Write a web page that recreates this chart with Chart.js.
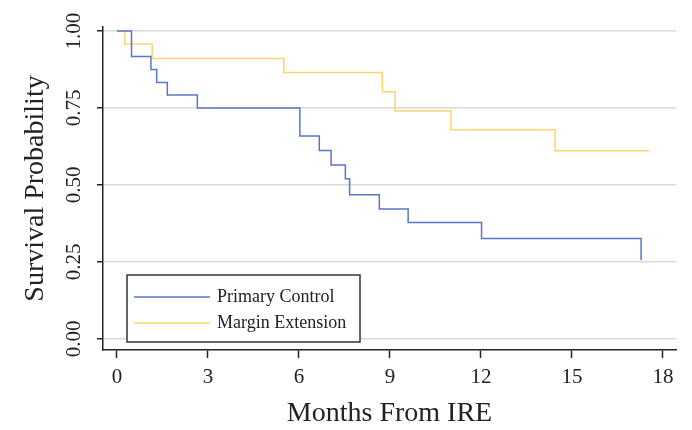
<!DOCTYPE html>
<html>
<head>
<meta charset="utf-8">
<script src="https://cdn.jsdelivr.net/npm/chart.js@4.4.1/dist/chart.umd.min.js"></script>
<style>
    html, body { margin: 0; padding: 0; background: #fff; }
    #wrap { width: 692px; height: 430px; }
</style>
</head>
<body>
<div id="wrap"><canvas id="kmChart"></canvas></div>
<script>
// Kaplan-Meier steps (months, survival)
const seriesNames = ['Primary Control', 'Margin Extension'];
const primaryMonths = [0, 0.48, 1.12, 1.31, 1.66, 2.65, 6.03, 6.67, 7.06, 7.53, 7.67, 8.65, 9.6, 12.02, 17.28];
const primarySurvival = [1, 0.917, 0.875, 0.833, 0.792, 0.75, 0.659, 0.612, 0.565, 0.52, 0.468, 0.422, 0.378, 0.326, 0.256];
const marginMonths = [0, 0.26, 1.16, 5.5, 8.75, 9.17, 11.01, 14.44, 17.55];
const marginSurvival = [1, 0.958, 0.911, 0.865, 0.803, 0.74, 0.679, 0.611, 0.611];
const monthTicks = [0, 3, 6, 9, 12, 15, 18];
const survivalTicks = [0, 0.25, 0.5, 0.75, 1];

const SERIF = '"Liberation Serif", "Times New Roman", serif';
const INK = '#222';

const toPoints = (xs, ys) => xs.map((x, i) => ({ x: x, y: ys[i] }));

// legend drawn inside the plot, bottom-left, like the original
const legendBox = {
    id: 'legendBox',
    afterDatasetsDraw(chart) {
        const { ctx, chartArea } = chart;
        const left = chartArea.left + 24;
        const bottom = chartArea.bottom - 8;
        const width = 233, height = 67;
        const top = bottom - height;

        ctx.save();
        ctx.fillStyle = '#fff';
        ctx.fillRect(left, top, width, height);
        ctx.strokeStyle = '#333';
        ctx.lineWidth = 1.5;
        ctx.strokeRect(left, top, width, height);

        ctx.font = '18px ' + SERIF;
        ctx.textBaseline = 'middle';
        chart.data.datasets.forEach((ds, i) => {
            const y = top + 22 + i * 26;
            ctx.strokeStyle = ds.borderColor;
            ctx.lineWidth = 1.5;
            ctx.beginPath();
            ctx.moveTo(left + 7, y);
            ctx.lineTo(left + 83, y);
            ctx.stroke();
            ctx.fillStyle = INK;
            ctx.fillText(ds.label, left + 90, y);
        });
        ctx.restore();
    }
};

new Chart(document.getElementById('kmChart'), {
    type: 'line',
    data: {
        datasets: [{
            label: seriesNames[0],
            data: toPoints(primaryMonths, primarySurvival),
            borderColor: '#5876cc',
            borderWidth: 1.5,
            stepped: 'before',
            pointRadius: 0,
            fill: false
        }, {
            label: seriesNames[1],
            data: toPoints(marginMonths, marginSurvival),
            borderColor: '#fdd36f',
            borderWidth: 1.5,
            stepped: 'before',
            pointRadius: 0,
            fill: false
        }]
    },
    options: {
        responsive: true,
        maintainAspectRatio: false,
        animation: false,
        devicePixelRatio: 1,
        layout: { padding: { top: 27, right: 16, left: 0, bottom: 0 } },
        plugins: { legend: { display: false }, tooltip: { enabled: false } },
        scales: {
            x: {
                type: 'linear',
                min: -0.46,
                max: 18.43,
                afterBuildTicks: (scale) => { scale.ticks = monthTicks.map(v => ({ value: v })); },
                afterFit: (scale) => { scale.height = 80; },
                ticks: {
                    autoSkip: false,
                    maxRotation: 0,
                    padding: 7,
                    color: INK,
                    font: { family: SERIF, size: 21 }
                },
                grid: { drawOnChartArea: false, drawTicks: true, tickLength: 8, tickColor: INK, tickWidth: 1.5 },
                border: { color: INK, width: 1.5 },
                title: {
                    display: true,
                    text: 'Months From IRE',
                    color: INK,
                    font: { family: SERIF, size: 28 },
                    padding: { top: 0, bottom: 0 }
                }
            },
            y: {
                min: -0.036,
                max: 1.013,
                afterBuildTicks: (scale) => { scale.ticks = survivalTicks.map(v => ({ value: v })); },
                afterFit: (scale) => { scale.width = 103; },
                ticks: {
                    minRotation: 90,
                    maxRotation: 90,
                    crossAlign: 'center',
                    padding: 4,
                    color: INK,
                    font: { family: SERIF, size: 21 },
                    callback: (v) => Number(v).toFixed(2)
                },
                grid: { color: '#d9d9d9', lineWidth: 1.5, tickLength: 6, tickColor: INK, tickWidth: 1.5 },
                border: { color: INK, width: 1.5 },
                title: {
                    display: true,
                    text: 'Survival Probability',
                    color: INK,
                    font: { family: SERIF, size: 28 },
                    padding: { top: 19, bottom: 0 }
                }
            }
        }
    },
    plugins: [legendBox]
});
</script>
</body>
</html>
